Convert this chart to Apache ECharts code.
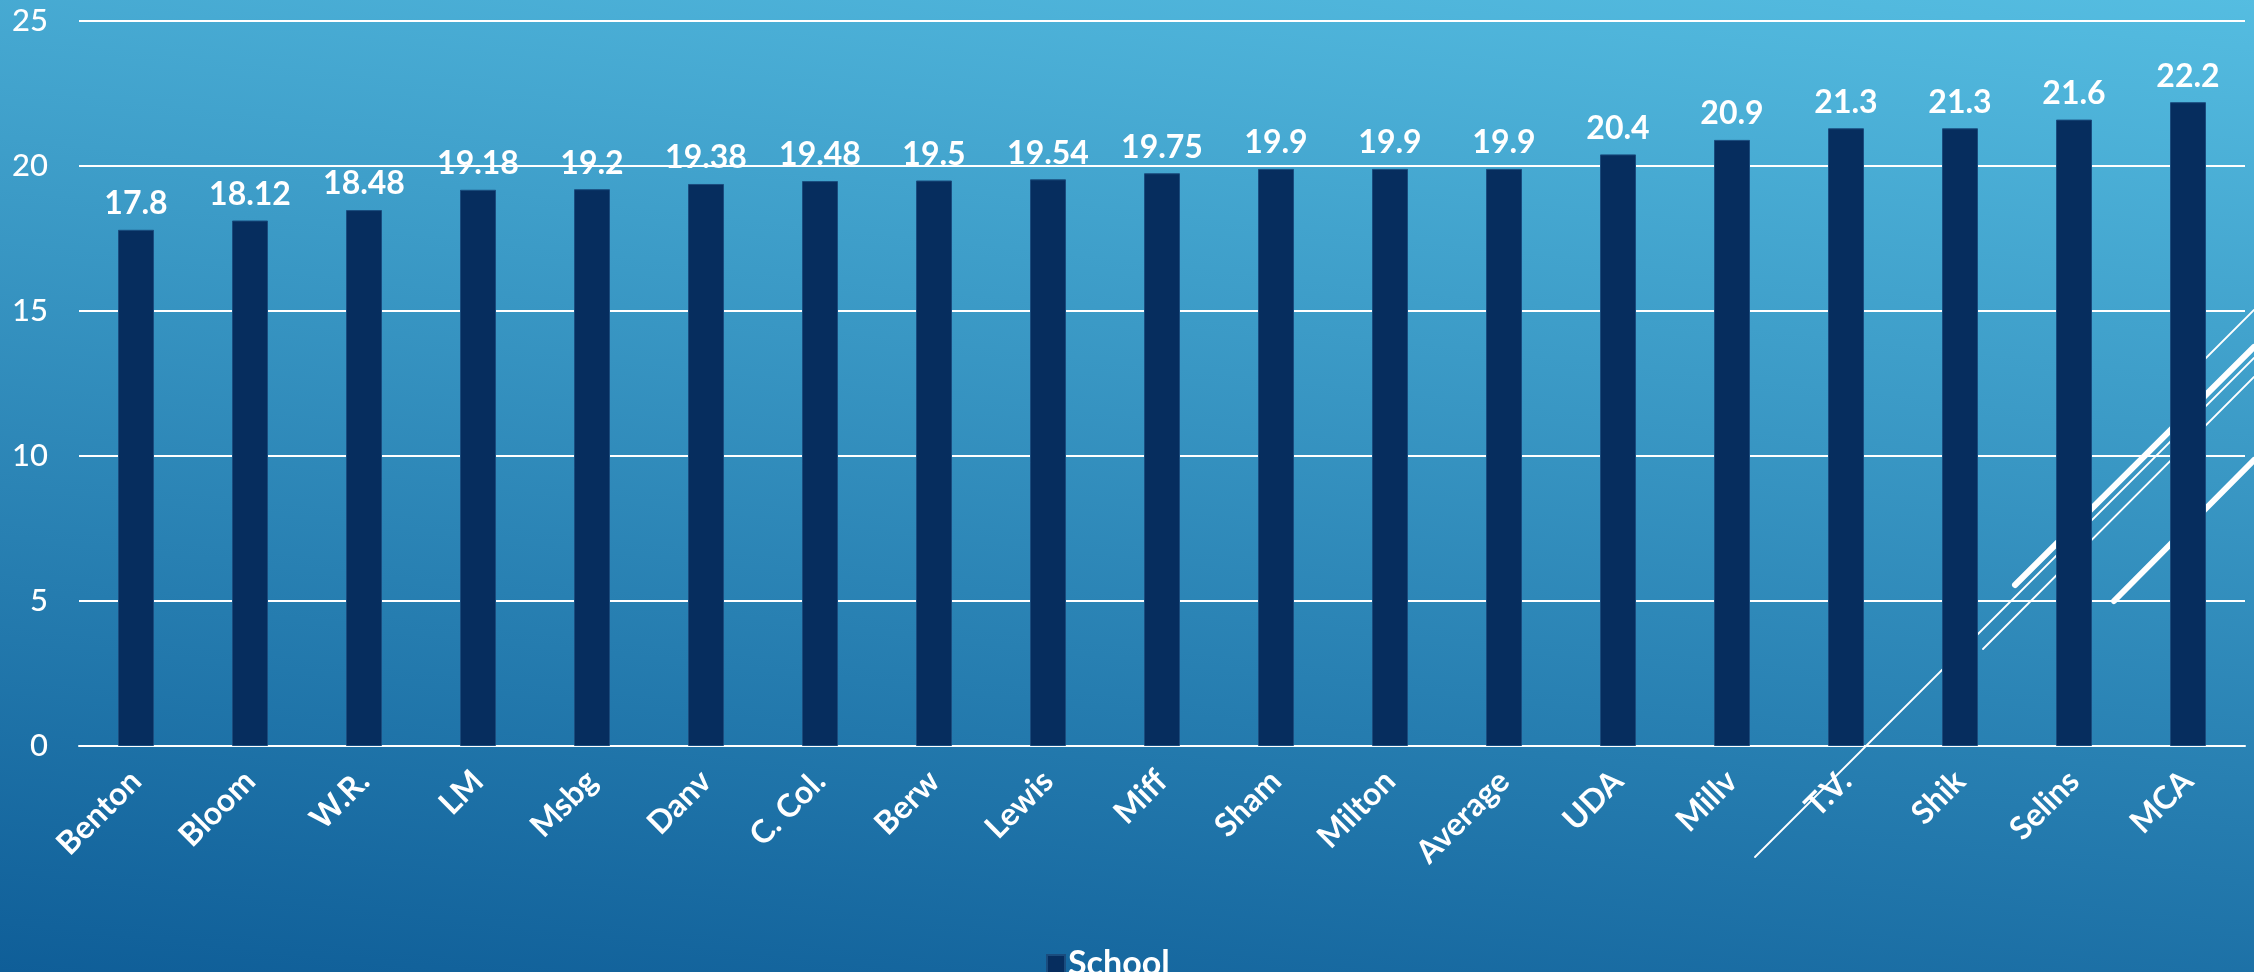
<!DOCTYPE html>
<html>
<head>
<meta charset="utf-8">
<script src="https://cdn.jsdelivr.net/npm/echarts@6/dist/echarts.min.js"></script>
<style>
  html, body { margin: 0; padding: 0; }
  #chart { width: 2254px; height: 972px; }
</style>
</head>
<body>
<div id="chart"></div>
<script>
const categories = ['Benton', 'Bloom', 'W.R.', 'LM', 'Msbg', 'Danv', 'C. Col.', 'Berw', 'Lewis', 'Miff',
  'Sham', 'Milton', 'Average', 'UDA', 'Millv', 'T.V.', 'Shik', 'Selins', 'MCA'];
const schoolValues = [17.8, 18.12, 18.48, 19.18, 19.2, 19.38, 19.48, 19.5, 19.54, 19.75,
  19.9, 19.9, 19.9, 20.4, 20.9, 21.3, 21.3, 21.6, 22.2];
const seriesName = 'School';
const yTicks = [0, 5, 10, 15, 20, 25];

const FONT = 'Lato';

// decorative slide lines (background ornament, not data)
const decoLines = [
  { x1: 1755, y1: 857, x2: 2254, y2: 358, w: 1.8 },
  { x1: 1983, y1: 649, x2: 2254, y2: 377, w: 1.8 },
  { x1: 2185, y1: 379, x2: 2254, y2: 310, w: 1.8 },
  { x1: 2015, y1: 585, x2: 2254, y2: 347, w: 6 },
  { x1: 2114, y1: 601, x2: 2254, y2: 460, w: 6 }
];

const chart = echarts.init(document.getElementById('chart'), null, { renderer: 'canvas' });
chart.setOption({
  backgroundColor: {
    type: 'linear', x: 0, y: 972, x2: 131, y2: -234, global: true,
    colorStops: [
      { offset: 0, color: '#0F5E98' },
      { offset: 1, color: '#55BDE1' }
    ]
  },
  animation: false,
  graphic: decoLines.map(l => ({
    type: 'line', z: 1,
    shape: { x1: l.x1, y1: l.y1, x2: l.x2, y2: l.y2 },
    style: { stroke: '#ffffff', lineWidth: l.w, lineCap: 'round' }
  })),
  grid: { left: 79, right: 9, top: 21, bottom: 226 },
  legend: {
    data: [seriesName],
    left: 1041, top: 942,
    icon: 'rect', itemWidth: 18, itemHeight: 18, itemGap: 10,
    textStyle: { color: '#ffffff', fontFamily: FONT, fontWeight: 'bold', fontSize: 34, padding: [0, 0, 0, -2] }
  },
  xAxis: {
    type: 'category',
    data: categories,
    axisLine: { show: true, lineStyle: { color: '#ffffff', width: 2 } },
    axisTick: { show: false },
    axisLabel: {
      rotate: 45, margin: 30, interval: 0,
      color: '#ffffff', fontFamily: FONT, fontWeight: 'bold', fontSize: 32
    }
  },
  yAxis: {
    type: 'value',
    min: yTicks[0], max: yTicks[yTicks.length - 1], interval: 5,
    axisLine: { show: false },
    axisTick: { show: false },
    splitLine: { lineStyle: { color: '#ffffff', width: 2 } },
    axisLabel: {
      margin: 31, color: '#ffffff', fontFamily: FONT, fontSize: 31, fontWeight: 500
    }
  },
  series: [{
    name: seriesName,
    type: 'bar',
    data: schoolValues,
    barWidth: 36,
    z: 2,
    itemStyle: { color: '#062D5E', borderColor: '#1A4C7E', borderWidth: 1 },
    label: {
      show: true, position: 'top', distance: 10,
      color: '#ffffff', fontFamily: FONT, fontWeight: 'bold', fontSize: 32
    }
  }]
});
</script>
</body>
</html>
